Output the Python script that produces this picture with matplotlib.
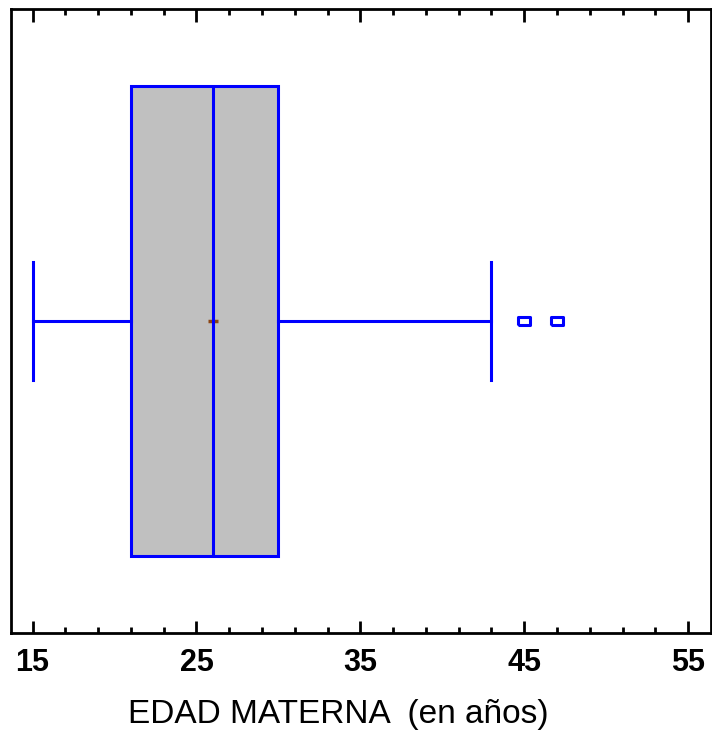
import matplotlib.pyplot as plt
from matplotlib.ticker import MultipleLocator

# box summary
q1 = 21
median = 26
q3 = 30
mean = 26
whisker_low = 15
whisker_high = 43
outliers = [45, 47]
major_ticks = [15, 25, 35, 45, 55]

blue = '#0000FF'
stats = [dict(med=median, q1=q1, q3=q3, whislo=whisker_low, whishi=whisker_high,
              mean=mean, fliers=outliers, label='')]

fig = plt.figure(figsize=(7.12, 7.30), dpi=100)
ax = fig.add_axes([0.0159, 0.133, 0.982, 0.855])

rect = [(-1.5, -1), (1.5, -1), (1.5, 1), (-1.5, 1), (-1.5, -1)]
ax.bxp(stats, positions=[1], widths=0.753, capwidths=0.19,
       orientation='horizontal', patch_artist=True, showmeans=True,
       boxprops=dict(facecolor='#C0C0C0', edgecolor=blue, linewidth=2.2),
       medianprops=dict(color=blue, linewidth=2.2, zorder=4),
       whiskerprops=dict(color=blue, linewidth=2.2),
       capprops=dict(color=blue, linewidth=2.2),
       meanprops=dict(marker='_', markeredgecolor='#8B4513', markersize=7,
                      markeredgewidth=2.5, zorder=3),
       flierprops=dict(marker=rect, markersize=9, markerfacecolor='white',
                       markeredgecolor=blue, markeredgewidth=2.2))

ax.set_xlim(13.7, 56.37)
ax.set_ylim(0.5, 1.5)
ax.set_xticks(major_ticks)
ax.xaxis.set_minor_locator(MultipleLocator(2, offset=1))
ax.set_yticks([])
ax.tick_params(axis='x', which='both', direction='in', top=True, bottom=True,
               width=2, pad=11)
ax.tick_params(axis='x', which='major', length=9)
ax.tick_params(axis='x', which='minor', length=4.5)
for lab in ax.get_xticklabels():
    lab.set_fontfamily(['Liberation Sans Narrow', 'Liberation Sans'])
    lab.set_fontweight('bold')
    lab.set_fontsize(22)
for s in ax.spines.values():
    s.set_linewidth(2)

ax.set_xlabel('EDAD MATERNA  (en años)', fontsize=24,
              family=['Liberation Sans', 'DejaVu Sans'])
ax.xaxis.set_label_coords(0.468, -0.106)

fig.savefig('out.png', dpi=100)
